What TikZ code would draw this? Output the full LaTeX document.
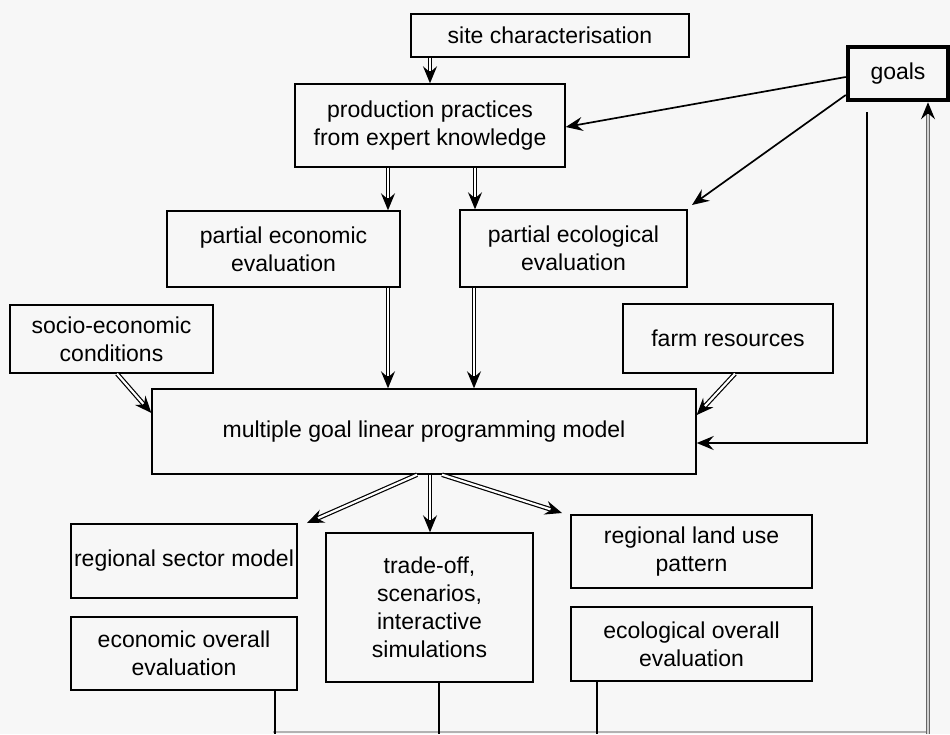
\documentclass[tikz,border=0pt]{standalone}
\usepackage{fontspec}
\setmainfont{Liberation Sans}
\usetikzlibrary{arrows.meta,calc}
\newcommand\darrow[3][black]{%
  \draw[dbl,draw=#1,shorten >=11pt] (#2) -- (#3);
  \draw[tipst] ($(#3)!12pt!(#2)$) -- (#3);}
\begin{document}
\begin{tikzpicture}[x=1pt,y=-1pt,
  box/.style={draw, line width=1.4pt, align=center, inner sep=0pt,
    font=\fontsize{23}{28}\selectfont},
  dbl/.style={double, double distance=2.2pt, line width=1.2pt},
  tipst/.style={line width=1.3pt, -{Stealth[length=17pt,width=14pt,inset=6pt]}},
  sgl/.style={line width=1.7pt},
  sglarr/.style={line width=1.7pt, -{Stealth[length=17pt,width=14pt,inset=6pt]}}]
\fill[black!3] (0,0) rectangle (950,734);
\useasboundingbox (0,0) rectangle (950,734);

% boxes
\node[box, minimum width=278pt, minimum height=43pt] (site) at (550,35.5) {site characterisation};
\node[box, minimum width=270pt, minimum height=83pt] (prod) at (430,125.5) {production practices\\from expert knowledge};
\node[box, line width=4.5pt, minimum width=100pt, minimum height=53pt] (goals) at (898,73.5) {goals};
\node[box, minimum width=233pt, minimum height=76pt] (pecon) at (283.5,249) {partial economic\\evaluation};
\node[box, minimum width=227pt, minimum height=77pt] (peco) at (573.5,248.5) {partial ecological\\evaluation};
\node[box, minimum width=203pt, minimum height=68pt] (socio) at (111.5,339) {socio-economic\\conditions};
\node[box, minimum width=210pt, minimum height=69pt] (farm) at (728,338.5) {farm resources};
\node[box, minimum width=544pt, minimum height=85pt] (mglp) at (424,431.5) {multiple goal linear programming model};
\node[box, minimum width=226pt, minimum height=74pt] (rsm) at (184,561) {regional sector model};
\node[box, minimum width=226pt, minimum height=73pt] (econ) at (184,653.5) {economic overall\\evaluation};
\node[box, minimum width=207pt, minimum height=149pt] (trade) at (429.5,607.5) {trade-off,\\scenarios,\\interactive\\simulations};
\node[box, minimum width=241pt, minimum height=73pt] (rlu) at (691.5,551.5) {regional land use\\pattern};
\node[box, minimum width=241pt, minimum height=74pt] (ecol) at (691.5,644) {ecological overall\\evaluation};

% helper coordinates
\coordinate (X430) at (430,0);
\coordinate (X388) at (388,0);
\coordinate (X475) at (475,0);
\coordinate (X474) at (474,0);
\coordinate (X117) at (117,0);
\coordinate (X735) at (735,0);
\coordinate (X417) at (417,0);
\coordinate (X442) at (442,0);
\coordinate (X275) at (275,0);
\coordinate (X439) at (439,0);
\coordinate (X597) at (597,0);
\coordinate (X928) at (928,0);
\coordinate (Y413) at (0,413);
\coordinate (Y415) at (0,415);
\coordinate (Y77) at (0,77);
\coordinate (Y95) at (0,95);
\coordinate (Y127) at (0,127);
\coordinate (Y443) at (0,443);
\coordinate (rsmtip) at (307,523);
\coordinate (rlutip) at (562,513);
\coordinate (ecotip) at (692,205);
\coordinate (gtop) at (867,112);
\coordinate (gbend) at (867,443);
\coordinate (b275) at (275,734);
\coordinate (b439) at (439,734);
\coordinate (b597) at (597,734);
\coordinate (b928) at (928,734);
\coordinate (bl) at (273,732);
\coordinate (br) at (928,732);

% double arrows
\darrow{site.south -| X430}{prod.north -| X430}
\darrow{prod.south -| X388}{pecon.north -| X388}
\darrow{prod.south -| X475}{peco.north -| X475}
\darrow{pecon.south -| X388}{mglp.north -| X388}
\darrow{peco.south -| X474}{mglp.north -| X474}
\darrow{socio.south -| X117}{mglp.west |- Y413}
\darrow{farm.south -| X735}{mglp.east |- Y415}
\darrow{mglp.south -| X417}{rsmtip}
\darrow{mglp.south -| X430}{trade.north -| X430}
\darrow{mglp.south -| X442}{rlutip}

% single arrows from goals
\draw[sglarr] (goals.west |- Y77) -- (prod.east |- Y127);
\draw[sglarr] (goals.west |- Y95) -- (ecotip);
\draw[sglarr] (gtop) -- (gbend) -- (mglp.east |- Y443);

% lines to the bottom
\draw[gray!60, line width=1.2pt] (bl) -- (br);
\draw[sgl] (econ.south -| X275) -- (b275);
\draw[sgl] (trade.south -| X439) -- (b439);
\draw[sgl] (ecol.south -| X597) -- (b597);

% grey feedback arrow into goals
\draw[dbl, draw=black!60, double=black!18, shorten >=11pt] (b928) -- (goals.south -| X928);
\draw[tipst] ($(goals.south -| X928)!12pt!(b928)$) -- (goals.south -| X928);
\end{tikzpicture}
\end{document}
